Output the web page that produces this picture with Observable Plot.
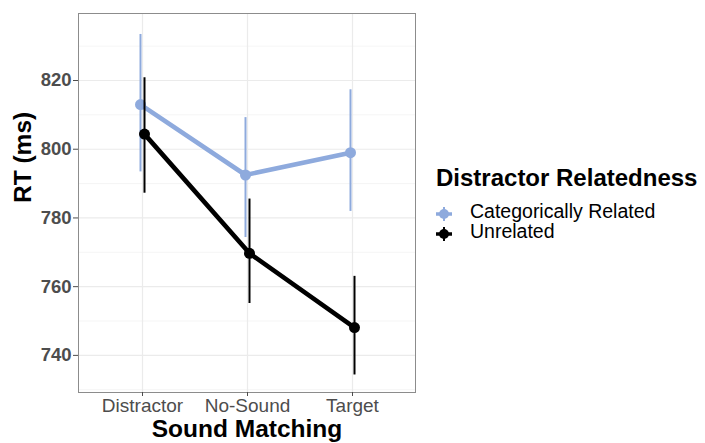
<!DOCTYPE html>
<html>
<head>
<meta charset="utf-8">
<script src="https://cdn.jsdelivr.net/npm/d3@7"></script>
<script src="https://cdn.jsdelivr.net/npm/@observablehq/plot@0.6"></script>
<style>
  body { margin: 0; background: white; }
  #wrap { position: relative; width: 705px; height: 443px; font-family: "Liberation Sans", Arial, sans-serif; }
  #legend { position: absolute; left: 0; top: 0; }
</style>
</head>
<body>
<div id="wrap"></div>
<script>
// ---- data ----
const categories = ["Distractor", "No-Sound", "Target"];
const seriesNames = ["Categorically Related", "Unrelated"];
const relatedMean = [813, 792.5, 799];
const relatedLow  = [793.4, 774.3, 781.9];
const relatedHigh = [833.4, 809.2, 817.3];
const unrelatedMean = [804.4, 769.7, 748.1];
const unrelatedLow  = [787.2, 755.1, 734.3];
const unrelatedHigh = [820.8, 785.5, 763.0];
const yMajorTicks = [740, 760, 780, 800, 820];
const yMinorTicks = [730, 750, 770, 790, 810, 830];
const colors = ["#8eaadd", "#000000"];

const related = categories.map((c, i) => ({cat: c, mean: relatedMean[i], lo: relatedLow[i], hi: relatedHigh[i]}));
const unrelated = categories.map((c, i) => ({cat: c, mean: unrelatedMean[i], lo: unrelatedLow[i], hi: unrelatedHigh[i]}));

const font = "'Liberation Sans', Arial, sans-serif";

function seriesMarks(data, color, dx) {
  return [
    Plot.line(data, {x: "cat", y: "mean", stroke: color, strokeWidth: 4.6, dx}),
    Plot.ruleX(data, {x: "cat", y1: "lo", y2: "hi", stroke: color, strokeWidth: 2, dx}),
    Plot.dot(data, {x: "cat", y: "mean", r: 5.5, fill: color, stroke: "none", dx})
  ];
}

const chart = Plot.plot({
  width: 705,
  height: 443,
  marginLeft: 78,
  marginRight: 290,
  marginTop: 13,
  marginBottom: 51,
  style: {fontFamily: font, background: "white", overflow: "visible"},
  x: {type: "point", domain: categories, padding: 0.6, label: null},
  y: {domain: [729.2, 839.5], label: null},
  marks: [
    Plot.gridY(yMinorTicks, {stroke: "#f3f3f3", strokeOpacity: 1, strokeWidth: 0.8}),
    Plot.gridY(yMajorTicks, {stroke: "#ebebeb", strokeOpacity: 1, strokeWidth: 1.2}),
    Plot.gridX(categories, {stroke: "#ebebeb", strokeOpacity: 1, strokeWidth: 1.2}),
    Plot.frame({stroke: "#8c8c8c", strokeWidth: 1}),
    Plot.axisY(yMajorTicks, {tickSize: 5, tickPadding: 2, fontSize: 18.5, fontWeight: "bold", color: "#4d4d4d", label: null}),
    Plot.axisX(categories, {tickSize: 4, tickPadding: 2, fontSize: 19, color: "#4d4d4d", label: null}),
    ...seriesMarks(related, colors[0], -2),
    ...seriesMarks(unrelated, colors[1], 2),
    Plot.text(["Sound Matching"], {frameAnchor: "bottom", dy: 44, lineAnchor: "bottom", fontSize: 24.5, fontWeight: "bold", fill: "black"}),
    Plot.text(["RT (ms)"], {frameAnchor: "left", dx: -55, rotate: -90, lineAnchor: "middle", fontSize: 24.5, fontWeight: "bold", fill: "black"})
  ]
});

const wrap = document.getElementById("wrap");
wrap.appendChild(chart);

// ---- legend ----
const leg = d3.select(wrap).append("svg")
  .attr("id", "legend")
  .attr("width", 705).attr("height", 443)
  .style("font-family", font)
  .style("pointer-events", "none");

leg.append("text")
  .attr("x", 436).attr("y", 186)
  .attr("font-size", 24).attr("font-weight", "bold").attr("fill", "black")
  .text("Distractor Relatedness");

const itemY = [211, 231];
seriesNames.forEach((name, i) => {
  const cy = itemY[i] + 3;
  const g = leg.append("g");
  g.append("line").attr("x1", 436).attr("x2", 452).attr("y1", cy).attr("y2", cy)
    .attr("stroke", colors[i]).attr("stroke-width", 3.5);
  g.append("line").attr("x1", 444).attr("x2", 444).attr("y1", cy - 7).attr("y2", cy + 7)
    .attr("stroke", colors[i]).attr("stroke-width", 2);
  g.append("circle").attr("cx", 444).attr("cy", cy).attr("r", 5).attr("fill", colors[i]);
  leg.append("text")
    .attr("x", 470).attr("y", itemY[i] + 7)
    .attr("font-size", 19.5).attr("fill", "black")
    .text(name);
});
</script>
</body>
</html>
